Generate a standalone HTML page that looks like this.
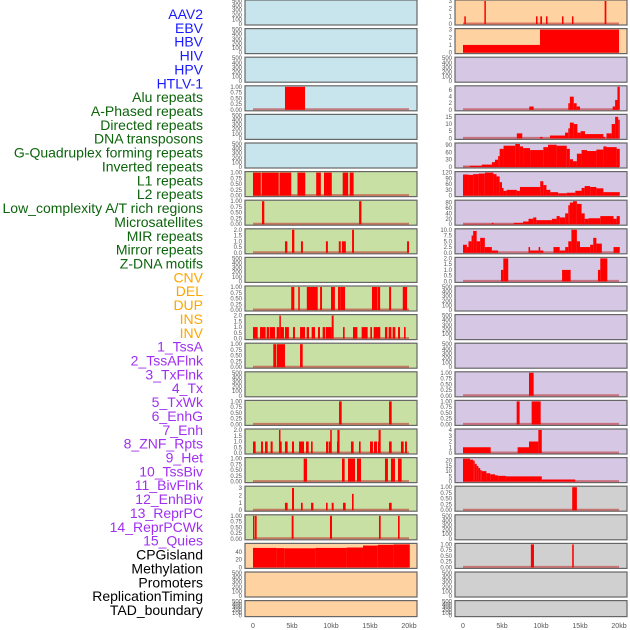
<!DOCTYPE html>
<html><head><meta charset="utf-8">
<style>
html,body{margin:0;padding:0;background:#fff;}
svg{display:block;font-family:"Liberation Sans",sans-serif;}
</style></head>
<body>
<svg id="chart" width="630" height="630" viewBox="0 0 630 630" xmlns="http://www.w3.org/2000/svg"></svg>
<script>
// ---------- row labels ----------
const labelNames = ["AAV2","EBV","HBV","HIV","HPV","HTLV-1","Alu repeats","A-Phased repeats","Directed repeats","DNA transposons","G-Quadruplex forming repeats","Inverted repeats","L1 repeats","L2 repeats","Low_complexity A/T rich regions","Microsatellites","MIR repeats","Mirror repeats","Z-DNA motifs","CNV","DEL","DUP","INS","INV","1_TssA","2_TssAFlnk","3_TxFlnk","4_Tx","5_TxWk","6_EnhG","7_Enh","8_ZNF_Rpts","9_Het","10_TssBiv","11_BivFlnk","12_EnhBiv","13_ReprPC","14_ReprPCWk","15_Quies","CPGisland","Methylation","Promoters","ReplicationTiming","TAD_boundary"];
const labelGroup = [0,0,0,0,0,0,1,1,1,1,1,1,1,1,1,1,1,1,1,2,2,2,2,2,3,3,3,3,3,3,3,3,3,3,3,3,3,3,3,4,4,4,4,4];
const xTicks = [0,5,10,15,20];
const xTickLabels = ["0","5kb","10kb","15kb","20kb"];

// ---------- left column data (kb) ----------
const L3_s=[4.1], L3_e=[6.67], L3_v=[1];
const L6_s=[0,1.1,3.4,5.7,8.1,9.1,11.5,12.4], L6_e=[1.0,3.3,4.9,6.7,8.7,10.1,12.2,12.9], L6_v=[1,1,1,1,1,1,1,1];
const L7_s=[1.15,13.6], L7_e=[1.45,13.9], L7_v=[1,1];
const L8_s=[4.1,5.0,6.15,9.35,11.0,11.4,12.7,19.75], L8_e=[4.4,5.3,6.4,9.6,11.25,11.9,12.95,20.0], L8_v=[1,2,1,1,1,1,2,1];
const L10_s=[4.9,5.8,6.9,8.6,10.0,10.9,11.25,15.25,15.95,17.45,19.2], L10_e=[5.3,6.0,8.3,8.85,10.5,11.25,11.8,15.9,16.3,17.7,19.75], L10_v=[1,1,1,1,1,1,1,1,1,1,1];
const L11_s=[0,0.9,1.75,2.18,3.03,3.38,3.55,4.1,5.13,6.03,6.88,7.52,8.33,8.93,9.32,10.09,11.54,12.82,13.93,15.04,15.47,16.92,17.39,17.9,18.59,19.36];
const L11_e=[0.6,1.62,2.1,2.82,3.38,3.55,3.97,4.6,5.38,6.67,7.18,7.95,8.59,9.23,10.09,10.34,11.75,13.38,14.7,15.26,16.32,17.22,17.74,18.25,18.85,19.57];
const L11_v=[1,1,1,1,1,2,1,1,1,1,1,1,1,1,1,2,1,1,1,1,1,1,1,1,1,1];
const L12_s=[2.6,3.03,6.03], L12_e=[2.95,4.1,6.37], L12_v=[1,1,1];
const L14_s=[11.03,17.44], L14_e=[11.37,17.78], L14_v=[1,1];
const L15_s=[0,1.03,1.54,2.26,3.33,3.45,4.1,5.0,5.9,6.8,7.44,9.36,9.74,9.9,10.77,10.82,16.02,12.56,13.59,15.0,15.51,16.1,17.44,18.97,19.49];
const L15_e=[0.34,1.28,1.88,2.52,3.45,3.68,4.44,5.26,6.54,7.14,7.65,9.66,9.9,10.1,10.82,11.1,16.1,12.9,13.8,15.38,15.9,16.37,17.78,19.32,19.74];
const L15_v=[1,1,1,1,2,1,1,1,1,1,1,1,1,2,1,2,1,1,1,1,1,2,1,1,1];
const L16_s=[6.5,11.41,12.18,13.33,16.92,17.69,18.59], L16_e=[6.92,11.75,13.08,13.85,17.3,18.2,19.06], L16_v=[1,1,1,1,1,1,1];
const L17_s=[4.1,5.0,6.15,7.44,9.36,10.09,11.54,12.69,17.44], L17_e=[4.44,5.26,6.37,7.74,9.57,10.34,11.88,12.9,17.78], L17_v=[1,3,1,1,1,1,1,2.2,1];
const L18_s=[0,0.26,4.96,9.87,16.15,18.59], L18_e=[0.13,0.47,5.2,10.13,16.37,18.8], L18_v=[1,1,1,1,1,1];
const L19_b=[0,3,4,8,12,14.1,16,18,20.1], L19_v=[50,49.5,49,50,51,56,58,59];

// ---------- right column data (kb) ----------
const R0_s=[0.17,2.74,9.36,9.91,10.64,12.69,13.97,18.16], R0_e=[0.34,2.9,9.53,10.13,10.81,12.86,14.15,18.38], R0_v=[1,3,1,1,1,1,1,3];
const R1_s=[0,9.87], R1_e=[9.87,20.0], R1_v=[1,3];
const R3_s=[8.5,13.5,13.7,14.2,14.57,19.19,19.5,19.8], R3_e=[9.06,13.7,14.2,14.57,15.0,19.5,19.8,20.1], R3_v=[1,2,4,2,1,1,3,7];
const R4_s=[6.9,9.87,11.15,13.08,13.5,13.7,14.2,14.66,15.08,15.64,18.0,18.4,19.06,19.5,19.9], R4_e=[7.6,10.2,13.08,13.5,13.7,14.2,14.66,15.08,15.64,18.0,18.2,19.06,19.5,19.9,20.1], R4_v=[3.5,1,2,4,7,11,10,4,5,3,1,3.5,10,15,13];
const R5_b=[0,0.9,2.4,3.7,4.1,4.5,4.7,5.2,6.7,7.3,7.7,8.6,10.3,10.9,12.0,13.3,13.7,14.1,14.6,15.2,15.9,17.1,18.0,18.4,19.7,20.1], R5_v=[1,5,10,20,30,45,75,88,95,85,78,70,82,92,88,75,32,24,55,70,66,72,85,82,75];
const R6_b=[0,0.7,1.3,2.0,2.8,3.9,4.3,4.7,5.0,5.2,5.6,6.9,7.3,9.9,10.3,10.7,11.2,12.2,13.3,14.4,15.2,15.6,16.3,17.1,18.0,20.1], R6_v=[110,108,112,115,120,112,100,70,40,25,30,25,45,75,55,30,18,12,15,25,40,50,45,38,18];
const R7_b=[0,3.7,3.9,6.5,7.7,8.4,9.0,9.4,10.7,11.4,12.0,12.4,13.1,13.5,13.7,14.1,14.6,15.2,15.6,16.1,17.6,19.3,19.7,20.1], R7_v=[1,5,1,5,10,20,25,15,15,20,30,25,40,70,80,85,75,40,20,22,30,20,30];
const R8_b=[0,0.5,0.7,1.1,1.3,1.75,2.2,2.8,3.7,4.5,8.4,8.6,9.7,9.9,10.3,11.6,12.4,13.1,13.5,13.9,14.6,15.0,16.3,16.7,17.1,17.8,19.3,20.1], R8_v=[3.5,2.5,5,7.5,9.5,5,6.5,2.5,1,0,2.5,1,2.5,1,0,2.5,1,2.5,5,10,5,2.5,3.5,6.5,4,0,2.5];
const R9_s=[4.87,5.17,12.7,17.3,17.6], R9_e=[5.17,5.8,13.8,17.6,18.5], R9_v=[1,2,1,1,2];
const R13_s=[8.46], R13_e=[9.06], R13_v=[1];
const R14_s=[6.88,8.8], R14_e=[7.26,9.96], R14_v=[1,1];
const R15_s=[0,7.0,8.46,9.66], R15_e=[3.55,8.46,9.66,10.1], R15_v=[1,1,2,4];
const R16_b=[0,0.9,1.3,1.5,1.75,1.97,2.2,2.4,3.0,3.5,4.1,4.5,5.5,10.1,14.4], R16_v=[22,21,20,17,15,13,11,10,8,7,6,5.5,5,2];
const R17_s=[14.0], R17_e=[14.6], R17_v=[1];
const R19_s=[8.7,14.0], R19_e=[9.1,14.2], R19_v=[1,1];

// ---------- tick label sets ----------
const T500=["0","100","200","300","400","500"];
const T1=["0.00","0.25","0.50","0.75","1.00"];
const T2=["0.0","0.5","1.0","1.5","2.0"];

const NS="http://www.w3.org/2000/svg";
const svg=document.getElementById('chart');
function mk(tag,attrs,parent){const e=document.createElementNS(NS,tag);for(const k in attrs)e.setAttribute(k,attrs[k]);(parent||svg).appendChild(e);return e;}

// labels
const labelColors=["#1a1aff","#0c640c","#ffa500","#a030f0","#000000"];
labelNames.forEach((n,i)=>{
  const t=mk('text',{x:203,y:14+i*13.86+5,'text-anchor':'end','font-size':'14',fill:labelColors[labelGroup[i]]});
  
  
  t.textContent=n;
});

const BG={blue:"#c8e4ec",green:"#c8e0a4",peach:"#ffd2a2",lav:"#d6c8e4",gray:"#d0d0d0"};
function xs(col,kb){return (col===0?253:463)+kb*7.8;}

function panel(col,row,bg,ymax,tickVals,tickLabs,s,e,v,name){
  const top=row*28.6, h=(row===21?16:25);
  const px=col===0?245:455;
  const g=mk('g',{});
  
  
  mk('rect',{x:px,y:top,width:172,height:h,fill:bg,stroke:'#666','stroke-width':1.2},g);
  const y0=top+h-1, y1=top+1;
  const ys=val=>y0-(val/ymax)*(y0-y1);
  tickVals.forEach((tv,i)=>{
    const t=mk('text',{x:px-3,y:ys(tv)+2,'text-anchor':'end','font-size':'6',fill:'#555'},g);
    
    
    t.textContent=tickLabs[i];
  });
  if(s){
    mk('line',{x1:xs(col,0),x2:xs(col,20),y1:y0-0.5,y2:y0-0.5,stroke:'rgba(190,40,40,0.55)','stroke-width':2},g);
    for(let i=0;i<v.length;i++){
      const a=s[i], b=e?e[i]:s[i+1];
      if(v[i]<=0)continue;
      const r=mk('rect',{x:xs(col,a),y:ys(v[i]),width:Math.max(1.5,xs(col,b)-xs(col,a)),height:y0-ys(v[i]),fill:'#ff0000'},g);
      
      
    }
  }
}
function empty(col,row,bg,name){panel(col,row,bg,500,[0,100,200,300,400,500],T500,null,null,null,name);}

// left column
for(let r=0;r<6;r++){ if(r===3) panel(0,3,BG.blue,1,[0,.25,.5,.75,1],T1,L3_s,L3_e,L3_v,'left-panel-3'); else empty(0,r,BG.blue,'left-panel-'+r); }
panel(0,6,BG.green,1,[0,.25,.5,.75,1],T1,L6_s,L6_e,L6_v,'left-panel-6');
panel(0,7,BG.green,1,[0,.25,.5,.75,1],T1,L7_s,L7_e,L7_v,'left-panel-7');
panel(0,8,BG.green,2,[0,.5,1,1.5,2],T2,L8_s,L8_e,L8_v,'left-panel-8');
empty(0,9,BG.green,'left-panel-9');
panel(0,10,BG.green,1,[0,.25,.5,.75,1],T1,L10_s,L10_e,L10_v,'left-panel-10');
panel(0,11,BG.green,2,[0,.5,1,1.5,2],T2,L11_s,L11_e,L11_v,'left-panel-11');
panel(0,12,BG.green,1,[0,.25,.5,.75,1],T1,L12_s,L12_e,L12_v,'left-panel-12');
empty(0,13,BG.green,'left-panel-13');
panel(0,14,BG.green,1,[0,.25,.5,.75,1],T1,L14_s,L14_e,L14_v,'left-panel-14');
panel(0,15,BG.green,2,[0,.5,1,1.5,2],T2,L15_s,L15_e,L15_v,'left-panel-15');
panel(0,16,BG.green,1,[0,.25,.5,.75,1],T1,L16_s,L16_e,L16_v,'left-panel-16');
panel(0,17,BG.green,3.1,[0,1,2,3],["0","1","2","3"],L17_s,L17_e,L17_v,'left-panel-17');
panel(0,18,BG.green,1,[0,.25,.5,.75,1],T1,L18_s,L18_e,L18_v,'left-panel-18');
panel(0,19,BG.peach,59,[0,20,40],["0","20","40"],L19_b,null,L19_v,'left-panel-19');
empty(0,20,BG.peach,'left-panel-20');
empty(0,21,BG.peach,'left-panel-21');

// right column
panel(1,0,BG.peach,3,[0,1,2,3],["0","1","2","3"],R0_s,R0_e,R0_v,'right-panel-0');
panel(1,1,BG.peach,3,[0,1,2,3],["0","1","2","3"],R1_s,R1_e,R1_v,'right-panel-1');
empty(1,2,BG.lav,'right-panel-2');
panel(1,3,BG.lav,7,[0,2,4,6],["0","2","4","6"],R3_s,R3_e,R3_v,'right-panel-3');
panel(1,4,BG.lav,16,[0,5,10,15],["0","5","10","15"],R4_s,R4_e,R4_v,'right-panel-4');
panel(1,5,BG.lav,95,[0,30,60,90],["0","30","60","90"],R5_b,null,R5_v,'right-panel-5');
panel(1,6,BG.lav,120,[0,30,60,90,120],["0","30","60","90","120"],R6_b,null,R6_v,'right-panel-6');
panel(1,7,BG.lav,85,[0,20,40,60,80],["0","20","40","60","80"],R7_b,null,R7_v,'right-panel-7');
panel(1,8,BG.lav,10,[0,2.5,5,7.5,10],["0.0","2.5","5.0","7.5","10.0"],R8_b,null,R8_v,'right-panel-8');
panel(1,9,BG.lav,2,[0,.5,1,1.5,2],T2,R9_s,R9_e,R9_v,'right-panel-9');
empty(1,10,BG.lav,'right-panel-10');
empty(1,11,BG.lav,'right-panel-11');
empty(1,12,BG.lav,'right-panel-12');
panel(1,13,BG.lav,1,[0,.25,.5,.75,1],T1,R13_s,R13_e,R13_v,'right-panel-13');
panel(1,14,BG.lav,1,[0,.25,.5,.75,1],T1,R14_s,R14_e,R14_v,'right-panel-14');
panel(1,15,BG.lav,4,[0,1,2,3,4],["0","1","2","3","4"],R15_s,R15_e,R15_v,'right-panel-15');
panel(1,16,BG.lav,22,[0,5,10,15,20],["0","5","10","15","20"],R16_b,null,R16_v,'right-panel-16');
panel(1,17,BG.gray,1,[0,.25,.5,.75,1],T1,R17_s,R17_e,R17_v,'right-panel-17');
empty(1,18,BG.gray,'right-panel-18');
panel(1,19,BG.gray,1,[0,.25,.5,.75,1],T1,R19_s,R19_e,R19_v,'right-panel-19');
empty(1,20,BG.gray,'right-panel-20');
empty(1,21,BG.gray,'right-panel-21');

// x axes
[0,1].forEach(col=>{
  xTicks.forEach((k,i)=>{
    const t=mk('text',{x:xs(col,k),y:628,'text-anchor':'middle','font-size':'7',fill:'#555'});
    
    
    t.textContent=xTickLabels[i];
  });
});
</script>
</body></html>
